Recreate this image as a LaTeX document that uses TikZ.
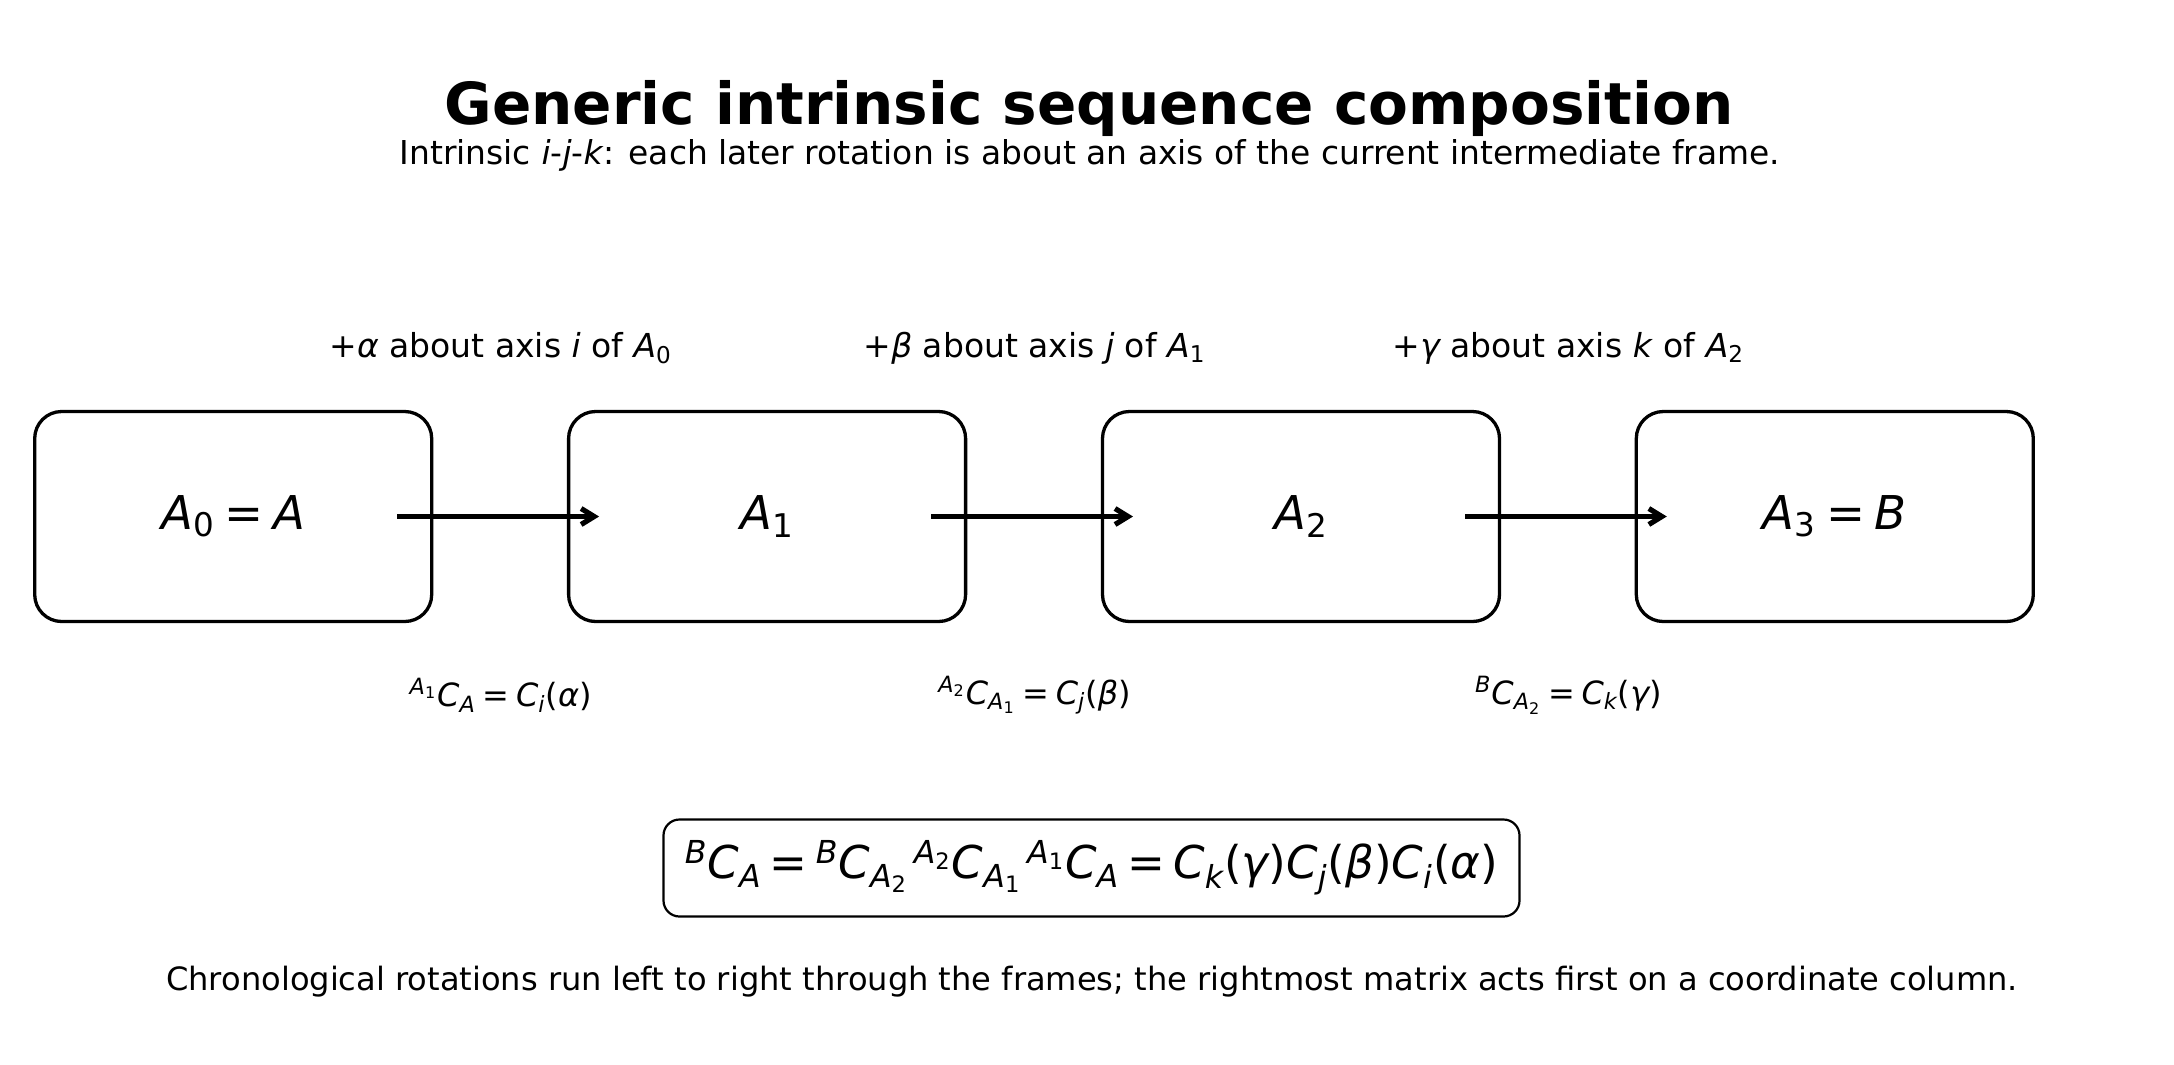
\documentclass[tikz,border=0pt]{standalone}
\usepackage{fontspec}
\usepackage{amsmath}
\setmainfont{DejaVu Sans}
\usetikzlibrary{arrows.meta,calc}
\newcommand\mv[1]{\text{\itshape #1}}
\newcommand\mup[1]{\text{\upshape #1}}
\newcommand\meq{\mathrel{\text{=}}}
\newcommand\fs[1]{\fontsize{#1bp}{#1bp}\selectfont}
\begin{document}
\begin{tikzpicture}[x=0.5bp,y=-0.5bp,
  execute at begin node={\thickmuskip=3.5mu plus 1mu},
  framebox/.style={draw,line width=1.65bp,rounded corners=13.5bp,minimum width=198.5bp,minimum height=105bp,inner sep=0pt,font=\fs{23.3}},
  arr/.style={line width=2.6bp,-{Straight Barb[length=6.5bp,width=8bp]}},
  toplab/.style={font=\fs{16.5},inner sep=0pt},
  botlab/.style={font=\fs{16},inner sep=0pt},
  eqbox/.style={draw,line width=1.1bp,rounded corners=8bp,minimum width=428bp,minimum height=48.5bp,inner sep=0pt,font=\fs{22.6}},
  titletext/.style={font=\fs{29}\bfseries,inner sep=0pt},
  subtext/.style={font=\fs{16.45},inner sep=0pt},
  foottext/.style={font=\fs{16.05},inner sep=0pt}]
\fill[white] (0,0) rectangle (2174,1064);
\useasboundingbox (0,0) rectangle (2174,1064);
\node[titletext] (title) at (1089,108) {Generic intrinsic sequence composition};
\node[subtext] (sub) at (1090,155) {Intrinsic \textit{i}-\textit{j}-\textit{k}: each later rotation is about an axis of the current intermediate frame.};
\node[framebox] (b0) at (233.2,516.5) {$\mv{A}_{\mup{0}}\meq\mv{A}$};
\node[framebox] (b1) at (767.1,516.5) {$\mv{A}_{\mup{1}}$};
\node[framebox] (b2) at (1301,516.5) {$\mv{A}_{\mup{2}}$};
\node[framebox] (b3) at (1834.8,516.5) {$\mv{A}_{\mup{3}}\meq\mv{B}$};
\draw[arr] ([xshift=82bp]b0.center) -- ([xshift=-84bp]b1.center);
\draw[arr] ([xshift=82bp]b1.center) -- ([xshift=-84bp]b2.center);
\draw[arr] ([xshift=82bp]b2.center) -- ([xshift=-84bp]b3.center);
\node[toplab] (t0) at (500.7,348) {$\text{+}\mv{α}$ about axis \textit{i} of $\mv{A}_{\mup{0}}$};
\node[toplab] (t1) at (1034.6,348) {$\text{+}\mv{β}$ about axis \textit{j} of $\mv{A}_{\mup{1}}$};
\node[toplab] (t2) at (1568.4,348) {$\text{+}\mv{γ}$ about axis \textit{k} of $\mv{A}_{\mup{2}}$};
\node[botlab] (m0) at (500.7,695) {${}^{\mv{A}_{\mup{1}}}\mv{C}_{\mv{A}}\meq\mv{C}_{\mv{i}}\text{(}\mv{α}\text{)}$};
\node[botlab] (m1) at (1034.6,695) {${}^{\mv{A}_{\mup{2}}}\mv{C}_{\mv{A}_{\mup{1}}}\meq\mv{C}_{\mv{j}}\text{(}\mv{β}\text{)}$};
\node[botlab] (m2) at (1568.4,695) {${}^{\mv{B}}\mv{C}_{\mv{A}_{\mup{2}}}\meq\mv{C}_{\mv{k}}\text{(}\mv{γ}\text{)}$};
\node[eqbox] (eq) at (1091.5,868) {${}^{\mv{B}}\mv{C}_{\mv{A}}\meq{}^{\mv{B}}\mv{C}_{\mv{A}_{\mup{2}}}\mkern2.5mu{}^{\mv{A}_{\mup{2}}}\mv{C}_{\mv{A}_{\mup{1}}}\mkern2.5mu{}^{\mv{A}_{\mup{1}}}\mv{C}_{\mv{A}}\meq\mv{C}_{\mv{k}}\text{(}\mv{γ}\text{)}\mv{C}_{\mv{j}}\text{(}\mv{β}\text{)}\mv{C}_{\mv{i}}\text{(}\mv{α}\text{)}$};
\node[foottext] (foot) at (1092,982) {Chronological rotations run left to right through the frames; the rightmost matrix acts first on a coordinate column.};
\end{tikzpicture}
\end{document}
